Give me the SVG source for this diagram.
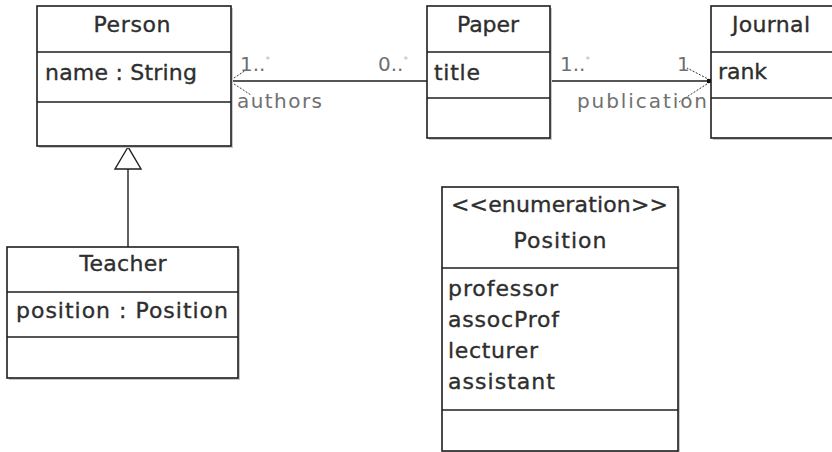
<svg xmlns="http://www.w3.org/2000/svg" width="832" height="452" viewBox="0 0 832 452">
<defs>
<style>
.shadow{fill:#c8c8c8;stroke:none}
.box{fill:#ffffff;stroke:#1e1e1e;stroke-width:1.6}
.div{stroke:#1e1e1e;stroke-width:1.6}
.t{font-family:"DejaVu Sans","Lucida Grande",sans-serif;font-size:22px;fill:#2e2e2e;stroke:#2e2e2e;stroke-width:0.35}
.c{text-anchor:middle}
.lbl{font-family:"DejaVu Sans",sans-serif;font-size:20px;fill:#707070}
.star{font-size:9px;fill:#b5b5b5}
.assoc{stroke:#1e1e1e;stroke-width:1.4;fill:none}
.anchor{stroke:#333;stroke-width:1;stroke-dasharray:2,1.5;fill:none}
.gen{stroke:#1e1e1e;stroke-width:1.4;fill:#fff}
</style>
</defs>
<rect width="832" height="452" fill="#fff"/>

<g id="connectors">
  <line class="assoc" x1="231" y1="81" x2="427" y2="81"/>
  <line class="assoc" x1="550" y1="81" x2="711" y2="81"/>
  <line class="anchor" x1="231" y1="80" x2="246" y2="70"/>
  <line class="anchor" x1="231" y1="82" x2="251" y2="95"/>
  <rect x="229" y="79" width="4" height="4" fill="#111"/>
  <line class="anchor" x1="710" y1="80" x2="687" y2="68"/>
  <line class="anchor" x1="710" y1="82" x2="679" y2="102"/>
  <rect x="707" y="79" width="4" height="4" fill="#111"/>
  <text class="lbl" x="240" y="71">1..<tspan class="star" dy="-8">*</tspan></text>
  <text class="lbl" x="378" y="71">0..<tspan class="star" dy="-8">*</tspan></text>
  <text class="lbl" x="237" y="108" textLength="85" lengthAdjust="spacing">authors</text>
  <text class="lbl" x="560" y="71">1..<tspan class="star" dy="-8">*</tspan></text>
  <text class="lbl" x="677" y="71">1</text>
  <text class="lbl" x="577" y="108" textLength="130" lengthAdjust="spacing">publication</text>
  <line class="assoc" x1="128" y1="169" x2="128" y2="247"/>
  <polygon class="gen" points="128,147 115,169 141,169"/>
</g>

<g id="Person">
  <rect class="shadow" x="39" y="8" width="194" height="140"/>
  <rect class="box" x="37" y="6" width="194" height="140"/>
  <line class="div" x1="37" y1="52" x2="231" y2="52"/>
  <line class="div" x1="37" y1="102" x2="231" y2="102"/>
  <text class="t c" x="132" y="32" textLength="77" lengthAdjust="spacing">Person</text>
  <text class="t" x="45" y="80" textLength="152" lengthAdjust="spacing">name : String</text>
</g>

<g id="Paper">
  <rect class="shadow" x="429" y="8" width="123" height="132"/>
  <rect class="box" x="427" y="6" width="123" height="132"/>
  <line class="div" x1="427" y1="52" x2="550" y2="52"/>
  <line class="div" x1="427" y1="98" x2="550" y2="98"/>
  <text class="t c" x="488" y="32" textLength="62" lengthAdjust="spacing">Paper</text>
  <text class="t" x="434" y="80" textLength="46" lengthAdjust="spacing">title</text>
</g>

<g id="Journal">
  <rect class="shadow" x="713" y="8" width="140" height="132"/>
  <rect class="box" x="711" y="6" width="140" height="132"/>
  <line class="div" x1="711" y1="52" x2="851" y2="52"/>
  <line class="div" x1="711" y1="98" x2="851" y2="98"/>
  <text class="t" x="732" y="32" textLength="78" lengthAdjust="spacing">Journal</text>
  <text class="t" x="718" y="79" textLength="49" lengthAdjust="spacing">rank</text>
</g>

<g id="Teacher">
  <rect class="shadow" x="9" y="249" width="231" height="131"/>
  <rect class="box" x="7" y="247" width="231" height="131"/>
  <line class="div" x1="7" y1="292" x2="238" y2="292"/>
  <line class="div" x1="7" y1="337" x2="238" y2="337"/>
  <text class="t c" x="123" y="271" textLength="87" lengthAdjust="spacing">Teacher</text>
  <text class="t" x="16" y="318" textLength="212" lengthAdjust="spacing">position : Position</text>
</g>

<g id="PositionEnum">
  <rect class="shadow" x="444" y="189" width="236" height="264"/>
  <rect class="box" x="442" y="187" width="236" height="264"/>
  <line class="div" x1="442" y1="268" x2="678" y2="268"/>
  <line class="div" x1="442" y1="410" x2="678" y2="410"/>
  <text class="t" x="451" y="212" textLength="217" lengthAdjust="spacing">&lt;&lt;enumeration&gt;&gt;</text>
  <text class="t c" x="560" y="248" textLength="93" lengthAdjust="spacing">Position</text>
  <text class="t" x="448" y="296" textLength="110" lengthAdjust="spacing">professor</text>
  <text class="t" x="448" y="327" textLength="111" lengthAdjust="spacing">assocProf</text>
  <text class="t" x="448" y="358" textLength="90" lengthAdjust="spacing">lecturer</text>
  <text class="t" x="448" y="389" textLength="107" lengthAdjust="spacing">assistant</text>
</g>
</svg>
